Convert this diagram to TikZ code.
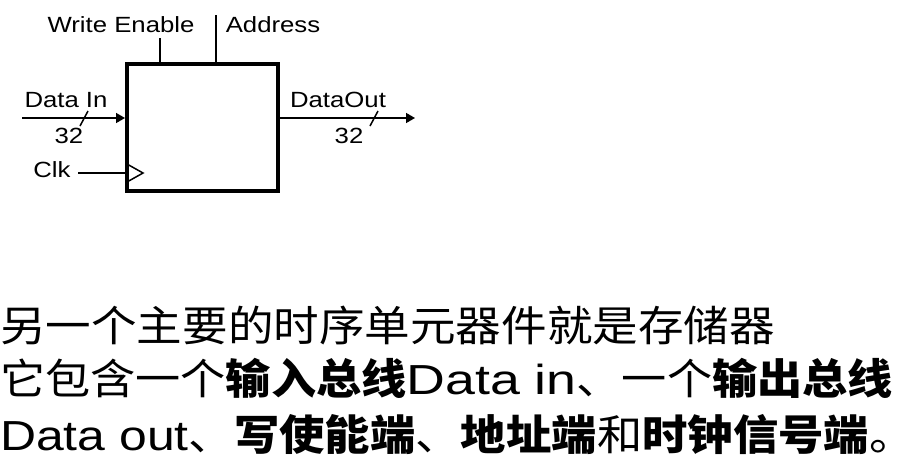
\documentclass[tikz,border=0pt]{standalone}
\usepackage{fontspec}
\setmainfont{Liberation Sans}
\newfontfamily\cjk{Noto Sans CJK SC}
\usetikzlibrary{arrows.meta}

\newcommand{\wide}[2]{\scalebox{#1}[1]{#2}}
\newcommand{\zh}[1]{{\cjk #1}}
\newcommand{\zhb}[1]{{\cjk\bfseries #1}}

\tikzset{
  sig/.style={line width=1.5pt, line cap=butt},
  bus/.style={sig, -{Triangle[length=9pt,width=10pt]}},
  pin/.style={anchor=base, inner sep=0pt, font=\fontsize{22}{24}\selectfont},
  para/.style={anchor=base west, inner sep=0pt, font=\fontsize{42}{48}\selectfont}
}

\begin{document}
\begin{tikzpicture}[x=1pt, y=-1pt, line join=miter]
\useasboundingbox (0,0) rectangle (916,466);
% memory block
\node[draw, line width=4pt, inner sep=0pt, minimum width=151pt, minimum height=127pt] (mem) at (202.5,127.5) {};
\coordinate (weTop) at (160,38);
\coordinate (adTop) at (216,15);
\coordinate (dinStart) at (22,118);
\coordinate (doutEnd) at (415,118);
\coordinate (clkStart) at (78,173);
% pins
\draw[sig] (weTop) -- (weTop |- mem.north);
\draw[sig] (adTop) -- (adTop |- mem.north);
\draw[bus] (dinStart) -- (dinStart -| mem.west);
\draw[bus] (doutEnd -| mem.east) -- (doutEnd);
\draw[sig] (clkStart) -- (clkStart -| mem.west);
\draw[sig] (127,164) -- (143,173) -- (127,182);
% bus width marks
\draw[sig] (80,126) -- (88,111);
\draw[sig] (370,126) -- (378,111);
% labels
\node[pin] (weLbl) at (121,32) {\wide{1.17}{Write Enable}};
\node[pin] (adLbl) at (273,32) {\wide{1.17}{Address}};
\node[pin] (dinLbl) at (66,107) {\wide{1.17}{Data In}};
\node[pin] (doutLbl) at (338,107) {\wide{1.17}{DataOut}};
\node[pin] (dinW) at (69,143) {\wide{1.17}{32}};
\node[pin] (doutW) at (349,143) {\wide{1.17}{32}};
\node[pin] (clkLbl) at (52,177) {\wide{1.17}{Clk}};
% description
\node[para] (line1) at (0,341) {\wide{1.085}{\zh{另一个主要的时序单元器件就是存储器}}};
\node[para] (line2) at (0,394) {\wide{1.075}{\zh{它包含一个}\zhb{输入总线}\wide{1.19}{Data in}\zh{、一个}\zhb{输出总线}}};
\node[para] (line3) at (0,450) {\wide{1.08}{\wide{1.10}{Data out}\zh{、}\zhb{写使能端}\zh{、}\zhb{地址端}\zh{和}\zhb{时钟信号端}\makebox[0.5em][l]{\zh{。}}}};
\end{tikzpicture}
\end{document}
